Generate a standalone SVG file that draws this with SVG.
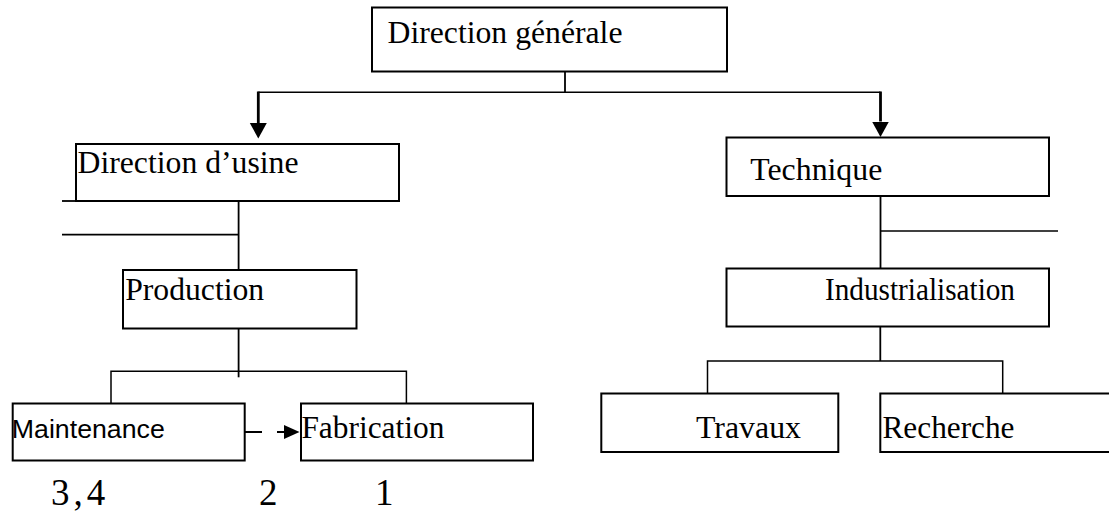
<svg xmlns="http://www.w3.org/2000/svg" width="1109" height="511" viewBox="0 0 1109 511">
  <style>
    .box { fill: #fff; stroke: #000; stroke-width: 2; }
    .lbl { font-family: "Liberation Serif", "Times New Roman", serif; font-size: 31px; fill: #000; }
    .sans { font-family: "Liberation Sans", Arial, sans-serif; font-size: 26px; fill: #000; }
    .num { font-family: "Liberation Serif", "Times New Roman", serif; font-size: 37px; fill: #000; }
    .ln { fill: none; stroke: #000; stroke-width: 1.8; }
    .thin { fill: none; stroke: #000; stroke-width: 1.5; }
    .arr { fill: none; stroke: #000; stroke-width: 2.8; marker-end: url(#head); }
    .dash { fill: none; stroke: #000; stroke-width: 1.8; stroke-dasharray: 17 15; marker-end: url(#small); }
  </style>
  <defs>
    <marker id="head" markerUnits="userSpaceOnUse" markerWidth="16" markerHeight="18" viewBox="0 0 16 18" refX="0" refY="9" orient="auto">
      <path d="M0,0.5 L15.5,9 L0,17.5 z" fill="#000"/>
    </marker>
    <marker id="small" markerUnits="userSpaceOnUse" markerWidth="16" markerHeight="15" viewBox="0 0 16 15" refX="0" refY="7.5" orient="auto">
      <path d="M0,0.5 L15.5,7.5 L0,14.5 z" fill="#000"/>
    </marker>
  </defs>

  <rect width="1109" height="511" fill="#fff"/>

  <!-- connectors -->
  <g id="connectors">
    <line class="ln" x1="565" y1="71.5" x2="565" y2="92.3"/>
    <line class="thin" x1="258.3" y1="92.3" x2="880.5" y2="92.3"/>
    <line class="arr" x1="258.3" y1="91.5" x2="258.3" y2="123"/>
    <line class="arr" x1="880.5" y1="91.5" x2="880.5" y2="121.5"/>

    <!-- usine branch -->
    <line class="ln" x1="62" y1="201" x2="77" y2="201"/>
    <line class="ln" x1="238.6" y1="201" x2="238.6" y2="270"/>
    <line class="ln" x1="62" y1="234.7" x2="238.6" y2="234.7"/>
    <line class="ln" x1="238.6" y1="328.5" x2="238.6" y2="377.3"/>
    <polyline class="thin" points="111,403.5 111,371.3 406.4,371.3 406.4,403.5"/>
    <line class="dash" x1="245" y1="432" x2="284" y2="432"/>

    <!-- technique branch -->
    <line class="ln" x1="880.5" y1="196" x2="880.5" y2="268.5"/>
    <line class="thin" x1="880.5" y1="231" x2="1058" y2="231"/>
    <line class="ln" x1="880.3" y1="326.5" x2="880.3" y2="361"/>
    <polyline class="thin" points="707.5,393.5 707.5,361 1002.7,361 1002.7,393.5"/>
  </g>

  <g id="direction-generale">
    <rect class="box" x="372" y="7.5" width="355" height="64"/>
    <text class="lbl" x="387.5" y="43.3" textLength="235" lengthAdjust="spacingAndGlyphs">Direction générale</text>
  </g>

  <g id="direction-usine">
    <rect class="box" x="76" y="144" width="323" height="57"/>
    <text class="lbl" x="77.5" y="173.3" textLength="221" lengthAdjust="spacingAndGlyphs">Direction d’usine</text>
  </g>

  <g id="technique">
    <rect class="box" x="726.5" y="137.5" width="322.5" height="58.5"/>
    <text class="lbl" x="750.3" y="180" textLength="132" lengthAdjust="spacingAndGlyphs">Technique</text>
  </g>

  <g id="production">
    <rect class="box" x="123" y="270" width="233.5" height="58.5"/>
    <text class="lbl" x="125.2" y="300" textLength="139" lengthAdjust="spacingAndGlyphs">Production</text>
  </g>

  <g id="industrialisation">
    <rect class="box" x="726.5" y="268.5" width="322.5" height="58"/>
    <text class="lbl" x="825" y="300" textLength="190" lengthAdjust="spacingAndGlyphs">Industrialisation</text>
  </g>

  <g id="maintenance">
    <rect class="box" x="12.7" y="403.5" width="232" height="57"/>
    <text class="sans" x="11.8" y="438.3" textLength="153" lengthAdjust="spacingAndGlyphs">Maintenance</text>
  </g>

  <g id="fabrication">
    <rect class="box" x="301" y="403.5" width="232" height="57"/>
    <text class="lbl" x="301.4" y="437.5" textLength="143" lengthAdjust="spacingAndGlyphs">Fabrication</text>
  </g>

  <g id="travaux">
    <rect class="box" x="601.3" y="393.5" width="237" height="58.5"/>
    <text class="lbl" x="696" y="438.3" textLength="105" lengthAdjust="spacingAndGlyphs">Travaux</text>
  </g>

  <g id="recherche">
    <rect class="box" x="880.3" y="393.5" width="240" height="58.5"/>
    <text class="lbl" x="882.5" y="438.3" textLength="132" lengthAdjust="spacingAndGlyphs">Recherche</text>
  </g>

  <!-- ranking figures under the lower boxes -->
  <g id="ranks">
    <text class="num" x="51" y="505" letter-spacing="4">3,4</text>
    <text class="num" x="259" y="505">2</text>
    <text class="num" x="375" y="505">1</text>
  </g>
</svg>
